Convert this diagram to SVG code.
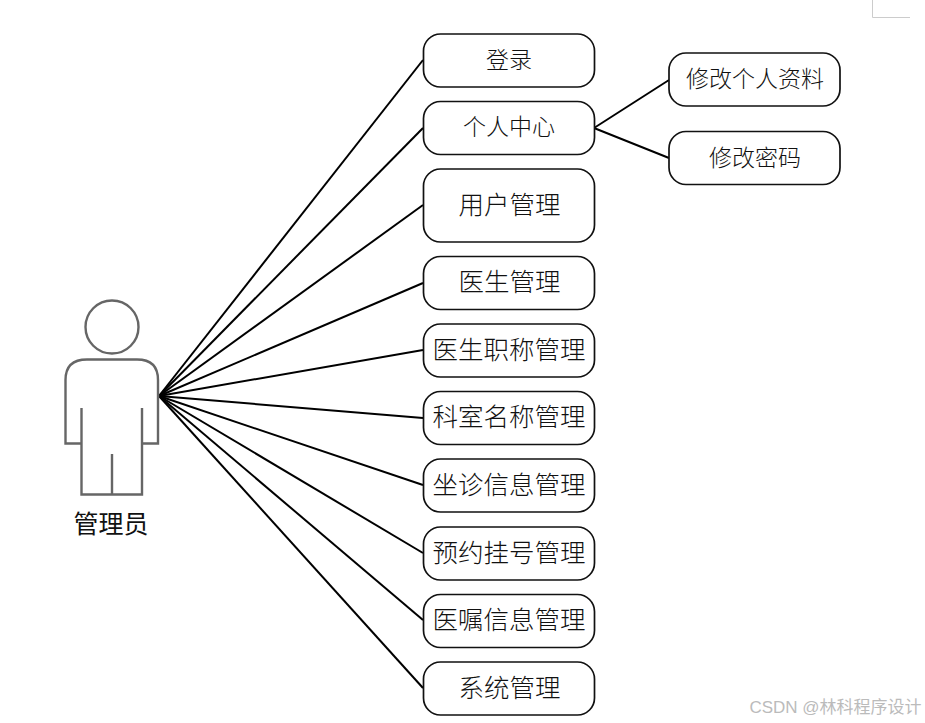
<svg xmlns="http://www.w3.org/2000/svg" width="925" height="723" viewBox="0 0 925 723">
<style>
.n{fill:#fff;stroke:#111;stroke-width:1.7}
.t{font-family:"Noto Sans CJK SC","Noto Sans",sans-serif;font-weight:300;fill:#111;text-anchor:middle;dominant-baseline:central}
.s{font-size:25.500px}.m{font-size:23px}
.c line{stroke:#000;stroke-width:2;fill:none}
.p{fill:none;stroke:#666;stroke-width:2.400}
</style>
<rect width="925" height="723" fill="#fff"/>
<path d="M872.500 0V17.500H910" fill="none" stroke="#ccc" stroke-width="1"/>
<g id="connectors" class="c">
<line x1="159" y1="396" x2="423" y2="60"/>
<line x1="159" y1="396" x2="423" y2="128"/>
<line x1="159" y1="396" x2="423" y2="205"/>
<line x1="159" y1="396" x2="423" y2="283"/>
<line x1="159" y1="396" x2="423" y2="350"/>
<line x1="159" y1="396" x2="423" y2="418"/>
<line x1="159" y1="396" x2="423" y2="485"/>
<line x1="159" y1="396" x2="423" y2="553"/>
<line x1="159" y1="396" x2="423" y2="620"/>
<line x1="159" y1="396" x2="423" y2="688"/>
<line x1="594" y1="128" x2="669" y2="80"/>
<line x1="594" y1="128" x2="669" y2="158"/>
</g>
<g id="actor">
<circle class="p" cx="112" cy="327" r="26.500"/>
<path class="p" d="M81.500 443.500H65.500V380Q65.500 359.500 87 359.500H137Q158 359.500 158 380V443.500H142M81.500 408V494.500H142V408M112 454V494.500"/>
<text class="t" x="111" y="522" font-size="25" style="font-weight:400">管理员</text>
</g>
<g id="n1"><rect class="n" x="423.500" y="34" width="171" height="53" rx="17"/><text class="t m" x="509" y="57.500">登录</text></g>
<g id="n2"><rect class="n" x="423.500" y="101.500" width="171" height="53" rx="17"/><text class="t m" x="509" y="124.500">个人中心</text></g>
<g id="n3"><rect class="n" x="423.500" y="169" width="171" height="73" rx="17"/><text class="t s" x="509.500" y="202">用户管理</text></g>
<g id="n4"><rect class="n" x="423.500" y="256.500" width="171" height="53" rx="17"/><text class="t s" x="509.500" y="279.500">医生管理</text></g>
<g id="n5"><rect class="n" x="423.500" y="324" width="171" height="53" rx="17"/><text class="t s" x="509" y="347">医生职称管理</text></g>
<g id="n6"><rect class="n" x="423.500" y="391.500" width="171" height="53" rx="17"/><text class="t s" x="509" y="414.500">科室名称管理</text></g>
<g id="n7"><rect class="n" x="423.500" y="459" width="171" height="53" rx="17"/><text class="t s" x="509" y="482">坐诊信息管理</text></g>
<g id="n8"><rect class="n" x="423.500" y="527" width="171" height="53" rx="17"/><text class="t s" x="509" y="550">预约挂号管理</text></g>
<g id="n9"><rect class="n" x="423.500" y="594.500" width="171" height="53" rx="17"/><text class="t s" x="509" y="617.500">医嘱信息管理</text></g>
<g id="n10"><rect class="n" x="423.500" y="662" width="171" height="53" rx="17"/><text class="t s" x="509.500" y="685">系统管理</text></g>
<g id="n11"><rect class="n" x="669" y="53" width="171" height="53" rx="17"/><text class="t m" x="755" y="77">修改个人资料</text></g>
<g id="n12"><rect class="n" x="669" y="131.500" width="171" height="53" rx="17"/><text class="t m" x="755" y="156">修改密码</text></g>
<text x="835.500" y="713" font-size="17" fill="#bbb" text-anchor="middle" font-family="'Liberation Sans','Noto Sans CJK SC',sans-serif">CSDN @林科程序设计</text>
</svg>
